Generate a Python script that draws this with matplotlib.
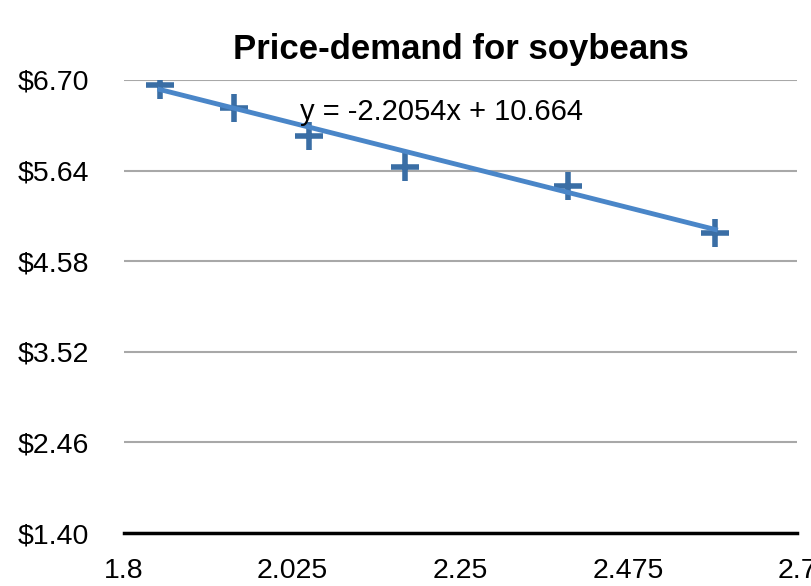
import matplotlib.pyplot as plt
import numpy as np

# data
quantity = [1.848, 1.947, 2.047, 2.176, 2.394, 2.591]
price = [6.64, 6.37, 6.04, 5.68, 5.46, 4.91]
slope, intercept = -2.2054, 10.664
xticks = [1.8, 2.025, 2.25, 2.475, 2.7]
xticklabels = ['1.8', '2.025', '2.25', '2.475', '2.7']
yticks = [1.40, 2.46, 3.52, 4.58, 5.64, 6.70]

plt.rcParams['font.family'] = ['Liberation Sans', 'DejaVu Sans']

fig = plt.figure(figsize=(8.12, 5.86), dpi=100)
ax = fig.add_axes([0.1527, 0.0904, 0.8288, 0.7731])

# trendline over the markers
xs = np.array([min(quantity), max(quantity)])
ax.plot(xs, slope * xs + intercept, color='#4a86c8', lw=3.5, zorder=5)
ax.scatter(quantity, price, marker='+', s=420, linewidths=4,
           color='#3a6ea5', zorder=4)

ax.text(2.035, 6.33, 'y = -2.2054x + 10.664', fontsize=21,
        ha='left', va='center', zorder=6)

ax.set_xlim(1.8, 2.7)
ax.set_ylim(1.40, 6.70)
ax.set_xticks(xticks)
ax.set_xticklabels(xticklabels)
ax.set_yticks(yticks)
ax.set_yticklabels(['$%.2f' % v for v in yticks])
ax.tick_params(length=0, labelsize=20.5)
ax.tick_params(axis='y', pad=25)
ax.tick_params(axis='x', pad=18)

ax.grid(axis='y', color='#a8a8a8', lw=1.5)
ax.set_axisbelow(True)
for s in ['top', 'right', 'left']:
    ax.spines[s].set_visible(False)
ax.spines['bottom'].set_linewidth(2.5)
ax.spines['bottom'].set_color('black')

ax.set_title('Price-demand for soybeans', fontsize=25, fontweight='bold', pad=15)

plt.savefig('out.png')
